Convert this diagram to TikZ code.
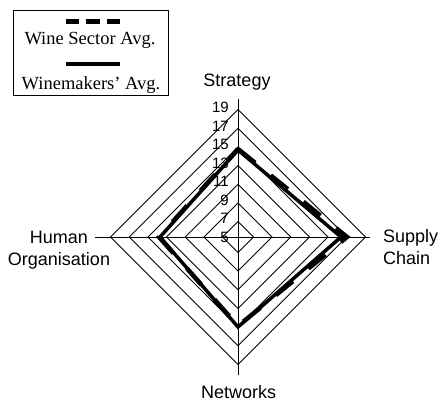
\documentclass[tikz,border=0pt]{standalone}
\usepackage{fontspec}
\setmainfont{Liberation Sans}
\newfontfamily\legendfont{Liberation Serif}

\begin{document}
\begin{tikzpicture}[x=1pt,y=1pt,
    ring/.style={black,line width=0.9pt},
    axislabel/.style={font=\fontsize{18}{22}\selectfont,inner sep=0pt},
    ticklabel/.style={font=\fontsize{15}{15}\selectfont,anchor=east,inner sep=0pt},
    legendtext/.style={font=\legendfont\fontsize{18.5}{20}\selectfont,anchor=base,inner sep=0pt},
    winemakers/.style={line width=3.5pt,line join=miter},
    sector/.style={line width=4.5pt,line join=miter,dash pattern=on 22pt off 20pt}]
            \useasboundingbox (-238,-164) rectangle (202,237);
            % rings of the radar grid
            \draw[ring] (0,15.5) -- (15.5,0) -- (0,-15.5) -- (-15.5,0) -- cycle;
            \draw[ring] (0,34) -- (34,0) -- (0,-34) -- (-34,0) -- cycle;
            \draw[ring] (0,52.7) -- (52.7,0) -- (0,-52.7) -- (-52.7,0) -- cycle;
            \draw[ring] (0,71.4) -- (71.4,0) -- (0,-71.4) -- (-71.4,0) -- cycle;
            \draw[ring] (0,90.1) -- (90.1,0) -- (0,-90.1) -- (-90.1,0) -- cycle;
            \draw[ring] (0,108.8) -- (108.8,0) -- (0,-108.8) -- (-108.8,0) -- cycle;
            \draw[ring] (0,127.5) -- (127.5,0) -- (0,-127.5) -- (-127.5,0) -- cycle;
            % axes
            \draw[ring] (0,138) -- (0,-138);
            \draw[ring] (-143,0) -- (132,0);
            % scale
            \node[ticklabel] (t5) at (-9,0) {5};
            \node[ticklabel] (t7) at (-9,18.5) {7};
            \node[ticklabel] (t9) at (-9,37) {9};
            \node[ticklabel] (t11) at (-9,55.5) {11};
            \node[ticklabel] (t13) at (-9,74) {13};
            \node[ticklabel] (t15) at (-9,92.5) {15};
            \node[ticklabel] (t17) at (-9,111) {17};
            \node[ticklabel] (t19) at (-9,129.5) {19};
            % data
            \draw[winemakers] (0,87) -- (103,0) -- (0,-90) -- (-78,0) -- cycle;
            \draw[sector] (0,88) -- (109,0) -- (0,-89) -- (-79,0) -- cycle;
            % axis names
            \node[axislabel,anchor=base] (strategy) at (-1,150.3) {Strategy};
            \node[axislabel,anchor=north west,align=left] (supply) at (145,7.5) {Supply\\Chain};
            \node[axislabel,anchor=base] (networks) at (0.7,-161.5) {Networks};
            \node[axislabel,anchor=north,align=center] (human) at (-179,6.5) {Human\\Organisation};
            % legend
            \node[draw,line width=0.8pt,minimum width=155pt,minimum height=84.3pt,inner sep=0pt] (legend) at (-147.2,184.15) {};
            \draw[line width=5pt,dash pattern=on 13.5pt off 7pt] (-172.3,215.3) -- (-118,215.3);
            \node[legendtext] (sectorlbl) at (-148,192) {Wine Sector Avg.};
            \draw[line width=4pt] (-172.3,173) -- (-118,173);
            \node[legendtext] (makerlbl) at (-147,147) {Winemakers’ Avg.};
        \end{tikzpicture}
\end{document}
